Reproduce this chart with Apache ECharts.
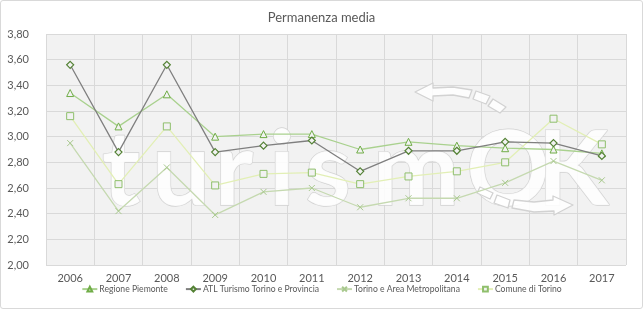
<!DOCTYPE html>
<html><head><meta charset="utf-8">
<script src="https://cdn.jsdelivr.net/npm/echarts@6/dist/echarts.min.js"></script>
<style>
html,body{margin:0;padding:0;background:#fff;}
#c{width:643px;height:309px;box-sizing:border-box;border:1px solid #d9d9d9;border-radius:3px;}
</style></head><body>
<div id="c"></div>
<script>
const categories = ['2006','2007','2008','2009','2010','2011','2012','2013','2014','2015','2016','2017'];
const regionePiemonte = [3.34, 3.08, 3.33, 3.00, 3.02, 3.02, 2.90, 2.96, 2.93, 2.91, 2.90, 2.87];
const atlTorino = [3.56, 2.88, 3.56, 2.88, 2.93, 2.97, 2.73, 2.89, 2.89, 2.96, 2.95, 2.85];
const torinoArea = [2.95, 2.42, 2.76, 2.39, 2.57, 2.60, 2.45, 2.52, 2.52, 2.64, 2.81, 2.66];
const comuneTorino = [3.16, 2.63, 3.08, 2.62, 2.71, 2.72, 2.63, 2.69, 2.73, 2.80, 3.14, 2.94];
const seriesNames = ['Regione Piemonte','ATL Turismo Torino e Provincia','Torino e Area Metropolitana','Comune di Torino'];
const watermarkLetters = ['t','u','r','i','s','m','O','K'];

const FONT = 'Lato, "Open Sans", sans-serif';
const TXT = '#595959';
const chart = echarts.init(document.getElementById('c'), null, {renderer:'canvas'});

const wmX = [120, 180, 233, 281, 327, 415, 507, 572];
const wmStyle = {fill: 'rgba(255,255,255,0.85)', stroke: '#d2d2d2', lineWidth: 1.3};
const graphics = watermarkLetters.map((ch, i) => ({
  type: 'text', z: 1, silent: true,
  x: wmX[i], y: 170,
  style: Object.assign({
    text: ch, font: 'bold 104px ' + FONT,
    align: 'center', verticalAlign: 'middle'
  }, wmStyle)
}));
// decorative arrows of the watermark logo
const arrowShapes = [
  [[414,91],[432,82],[432,87],[452,86],[471,89],[468,97],[452,94],[432,95],[432,100]],
  [[475,90],[489,95],[485,103],[472,98]],
  [[492,98],[505,106],[499,112],[487,105]],
  [[479,186],[492,192],[489,198],[476,192]],
  [[496,194],[509,199],[507,207],[493,202]],
  [[513,199],[533,201],[552,199],[552,195],[572,204],[553,214],[553,210],[533,211],[511,207]]
];
arrowShapes.forEach(pts => graphics.push({
  type: 'polygon', z: 1, silent: true,
  shape: {points: pts},
  style: Object.assign({}, wmStyle, {lineJoin: 'round'})
}));

const X_PATH = 'path://M0,0L10,10M10,0L0,10';

chart.setOption({
  backgroundColor: 'transparent',
  animation: false,
  title: {
    text: 'Permanenza media', left: 'center', top: 5,
    textStyle: {fontFamily: FONT, fontSize: 13, fontWeight: 'normal', color: TXT}
  },
  legend: {
    bottom: 9, left: 'center', itemGap: 17, itemWidth: 15, itemHeight: 6,
    textStyle: {fontFamily: FONT, fontSize: 8.6, color: TXT, padding: [0,0,0,-3]},
    data: seriesNames
  },
  grid: {left: 45, right: 16, top: 33, bottom: 43, show: true, backgroundColor: '#f2f2f2', borderWidth: 0},
  graphic: graphics,
  xAxis: {
    type: 'category', data: categories, boundaryGap: true,
    axisLine: {show: false}, axisTick: {show: false},
    axisLabel: {fontFamily: FONT, fontSize: 11, color: TXT, margin: 8},
    splitLine: {show: true, interval: 0, lineStyle: {color: '#d9d9d9', width: 1}}
  },
  yAxis: {
    type: 'value', min: 2, max: 3.8, interval: 0.2,
    axisLine: {show: false}, axisTick: {show: false},
    axisLabel: {fontFamily: FONT, fontSize: 11, color: TXT, margin: 17,
      formatter: v => v.toFixed(2).replace('.', ',')},
    splitLine: {lineStyle: {color: '#d9d9d9', width: 1}}
  },
  series: [
    {
      name: seriesNames[0], type: 'line', data: regionePiemonte, z: 3,
      symbol: 'triangle', symbolSize: 7,
      lineStyle: {color: '#a9d18e', width: 1.3},
      itemStyle: {color: '#f2f2f2', borderColor: '#70ad47', borderWidth: 1}
    },
    {
      name: seriesNames[1], type: 'line', data: atlTorino, z: 4,
      symbol: 'diamond', symbolSize: 7,
      lineStyle: {color: '#7f7f7f', width: 1.3},
      itemStyle: {color: '#f2f2f2', borderColor: '#548235', borderWidth: 1.2}
    },
    {
      name: seriesNames[2], type: 'line', data: torinoArea, z: 2,
      symbol: X_PATH, symbolSize: 6,
      lineStyle: {color: '#c5d9b0', width: 1.3},
      itemStyle: {color: 'none', borderColor: '#a9c98f', borderWidth: 1}
    },
    {
      name: seriesNames[3], type: 'line', data: comuneTorino, z: 2,
      symbol: 'rect', symbolSize: 7,
      lineStyle: {color: '#e2efb5', width: 1.3},
      itemStyle: {color: '#f2f2f2', borderColor: '#8fbf6c', borderWidth: 1}
    }
  ]
});
</script>
</body></html>
